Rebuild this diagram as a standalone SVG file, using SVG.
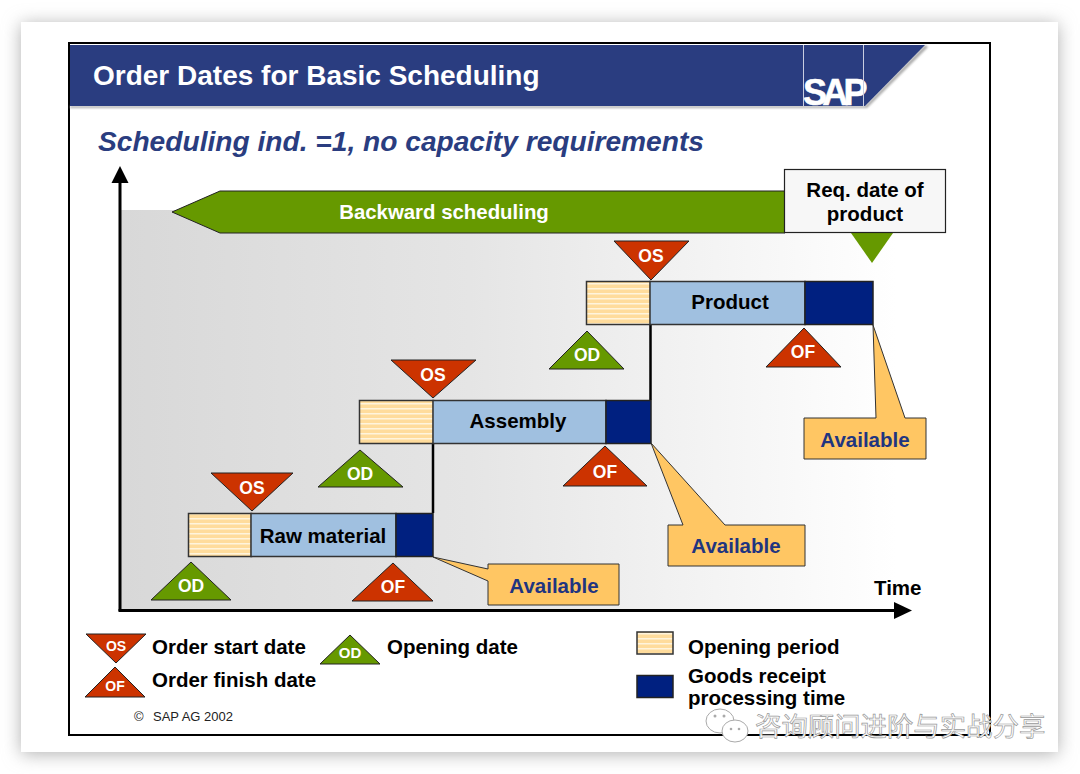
<svg xmlns="http://www.w3.org/2000/svg" width="1080" height="774" viewBox="0 0 1080 774">
<style>
text{font-family:"Liberation Sans",Arial,sans-serif;font-weight:bold}
.t{fill:#000;font-size:20.5px}
.c{text-anchor:middle}
.w{fill:#fff;font-size:17.5px;text-anchor:middle}
.wl{fill:#fff;font-size:14px;text-anchor:middle}
.r{fill:#cc3300;stroke:#222;stroke-width:1}
.g{fill:#669900;stroke:#222;stroke-width:1}
.open{fill:url(#hatch);stroke:#333;stroke-width:1.5}
.blue{fill:#a0c0e0;stroke:#333;stroke-width:1.5}
.navy{fill:#002080;stroke:#222;stroke-width:1.5}
.av{fill:#ffc663;stroke:#333;stroke-width:1}
.avt{fill:#1f3580;font-size:20.5px;text-anchor:middle}
.wm{font-family:"Noto Sans CJK SC","Liberation Sans",sans-serif;font-weight:400;font-size:26.4px;fill:#fff;stroke:#999;stroke-width:.7}
</style>
<defs>
<filter id="sh" x="-5%" y="-5%" width="110%" height="110%"><feGaussianBlur stdDeviation="9"/></filter>
<filter id="hs" x="-2%" y="-5%" width="104%" height="115%"><feGaussianBlur stdDeviation="1"/></filter>
<linearGradient id="bg" x1="0" y1="0" x2="1" y2="0"><stop offset="0" stop-color="#d8d8d8"/><stop offset=".45" stop-color="#e5e5e5"/><stop offset="1" stop-color="#fff"/></linearGradient>
<pattern id="hatch" width="6" height="5" patternUnits="userSpaceOnUse"><rect width="6" height="5" fill="#ffdc9c"/><rect y="3" width="6" height="1.5" fill="#fff4dc"/></pattern>
</defs>
<rect width="1080" height="774" fill="#fff"/>
<rect x="21" y="24" width="1037" height="730" fill="#b0b0b0" filter="url(#sh)"/>
<rect x="21" y="22" width="1037" height="730" fill="#fff"/>
<rect x="69" y="43" width="921" height="692" fill="#fff" stroke="#000" stroke-width="2"/>

<g id="header">
<polygon points="70,106 865,106 925,45 928,47 867,108 70,108" fill="#aaa" filter="url(#hs)"/>
<polygon points="70,45 925,45 865,106 70,106" fill="#2a3d80"/>
<text x="803" y="105" style="font-size:36px;letter-spacing:-4.800px" fill="#fff" stroke="#fff" stroke-width=".6">SAP</text>
<path d="M803.500 45V106M863.500 45V106" stroke="#c8cde0" stroke-width="1" fill="none"/>
<text x="93" y="85" style="font-size:28px" fill="#fff">Order Dates for Basic Scheduling</text>
</g>
<text id="subtitle" x="98" y="151" style="font-size:28.150px;font-style:italic" fill="#2a3d80">Scheduling ind. =1, no capacity requirements</text>

<rect id="plot" x="121" y="210" width="775" height="400" fill="url(#bg)"/>

<g id="connectors" fill="none" stroke="#000">
<path d="M120 611V180" stroke-width="3"/>
<polygon points="120,166 128.500,183 111.500,183" fill="#000" stroke="none"/>
<path d="M118.500 610.500H897" stroke-width="3"/>
<polygon points="912,610.500 894,602 894,619" fill="#000" stroke="none"/>
<path d="M433 443V513M650.500 324V400" stroke-width="2.500"/>
</g>

<g id="backward-scheduling">
<polygon points="172,212 220,191 785,191 785,233 220,233" class="g"/>
<text x="444" y="219" class="w" style="font-size:20.400px">Backward scheduling</text>
</g>
<g id="req-date">
<polygon points="851,233 893,233 872,263" fill="#669900"/>
<rect x="784.500" y="169.500" width="161" height="63" fill="#f7f7f7" stroke="#222" stroke-width="1.200"/>
<text x="865" y="197" class="t c">Req. date of</text>
<text x="865" y="221" class="t c">product</text>
</g>

<g id="product">
<rect x="586.500" y="281.500" width="64" height="43" class="open"/>
<rect x="650" y="281.500" width="155" height="43" class="blue"/>
<rect x="805" y="281.500" width="68" height="43" class="navy"/>
<text x="730" y="309" class="t c">Product</text>
</g>
<g id="assembly">
<rect x="359.500" y="400.500" width="74" height="43" class="open"/>
<rect x="433" y="400.500" width="173" height="43" class="blue"/>
<rect x="606" y="400.500" width="45" height="43" class="navy"/>
<text x="518" y="428" class="t c">Assembly</text>
</g>
<g id="raw-material">
<rect x="188.500" y="513.500" width="63" height="43" class="open"/>
<rect x="251" y="513.500" width="145" height="43" class="blue"/>
<rect x="396" y="513.500" width="37" height="43" class="navy"/>
<text x="323" y="543" class="t c">Raw material</text>
</g>

<g id="os-product"><polygon points="614,241 689,241 651,280" class="r"/><text x="651" y="262" class="w">OS</text></g>
<g id="od-product"><polygon points="549,369 587,331 624,369" class="g"/><text x="587" y="361" class="w">OD</text></g>
<g id="of-product"><polygon points="766,367 804,328 841,367" class="r"/><text x="803" y="358" class="w">OF</text></g>
<g id="os-assembly"><polygon points="391,360 476,360 433,398" class="r"/><text x="433" y="381" class="w">OS</text></g>
<g id="od-assembly"><polygon points="318,487 360,450 403,487" class="g"/><text x="360" y="480" class="w">OD</text></g>
<g id="of-assembly"><polygon points="563,486 605,446 647,486" class="r"/><text x="605" y="478" class="w">OF</text></g>
<g id="os-raw"><polygon points="211,473 293,473 252,511" class="r"/><text x="252" y="494" class="w">OS</text></g>
<g id="od-raw"><polygon points="151,600 191,562 231,600" class="g"/><text x="191" y="592" class="w">OD</text></g>
<g id="of-raw"><polygon points="352,601 393,563 433,601" class="r"/><text x="393" y="593" class="w">OF</text></g>

<g id="available-product">
<path d="M873 325L876 418H804V459H926V418H905Z" class="av"/>
<text x="865" y="447" class="avt">Available</text>
</g>
<g id="available-assembly">
<path d="M651 443L683 525H668V566H805V525H725Z" class="av"/>
<text x="736" y="553" class="avt">Available</text>
</g>
<g id="available-raw">
<path d="M433 557L488 569V564H619V605H488V581Z" class="av"/>
<text x="554" y="593" class="avt">Available</text>
</g>

<text id="time" x="874" y="595" class="t">Time</text>

<g id="legend">
<polygon points="86,634 146,634 116,663" class="r"/><text x="116" y="651" class="wl">OS</text>
<text x="152" y="654" class="t">Order start date</text>
<polygon points="85,697 145,697 115,667" class="r"/><text x="115" y="691" class="wl">OF</text>
<text x="152" y="687" class="t">Order finish date</text>
<polygon points="320,664 380,664 350,635" class="g"/><text x="350" y="658" class="wl" style="font-size:15px">OD</text>
<text x="387" y="654" class="t">Opening date</text>
<rect x="637" y="632" width="36" height="22" class="open"/>
<text x="688" y="654" class="t">Opening period</text>
<rect x="637" y="675.500" width="36" height="22" class="navy"/>
<text x="688" y="683" class="t">Goods receipt</text>
<text x="688" y="705" class="t">processing time</text>
</g>
<g id="copyright" fill="#222">
<text x="134" y="721" style="font-weight:400;font-size:13px">©</text>
<text x="153" y="721" style="font-weight:400;font-size:13px">SAP AG 2002</text>
</g>

<g id="watermark">
<ellipse cx="720" cy="721" rx="14" ry="12" fill="#fff" stroke="#aaa" stroke-width="1"/>
<ellipse cx="735" cy="731" rx="13" ry="11" fill="#fff" stroke="#aaa" stroke-width="1"/>
<circle cx="731" cy="729" r="1.300" fill="#aaa"/><circle cx="739" cy="729" r="1.300" fill="#aaa"/>
<circle cx="715" cy="716" r="1.500" fill="#aaa"/><circle cx="724" cy="716" r="1.500" fill="#aaa"/>
<text x="755" y="736" class="wm">咨询顾问进阶与实战分享</text>
</g>
</svg>
